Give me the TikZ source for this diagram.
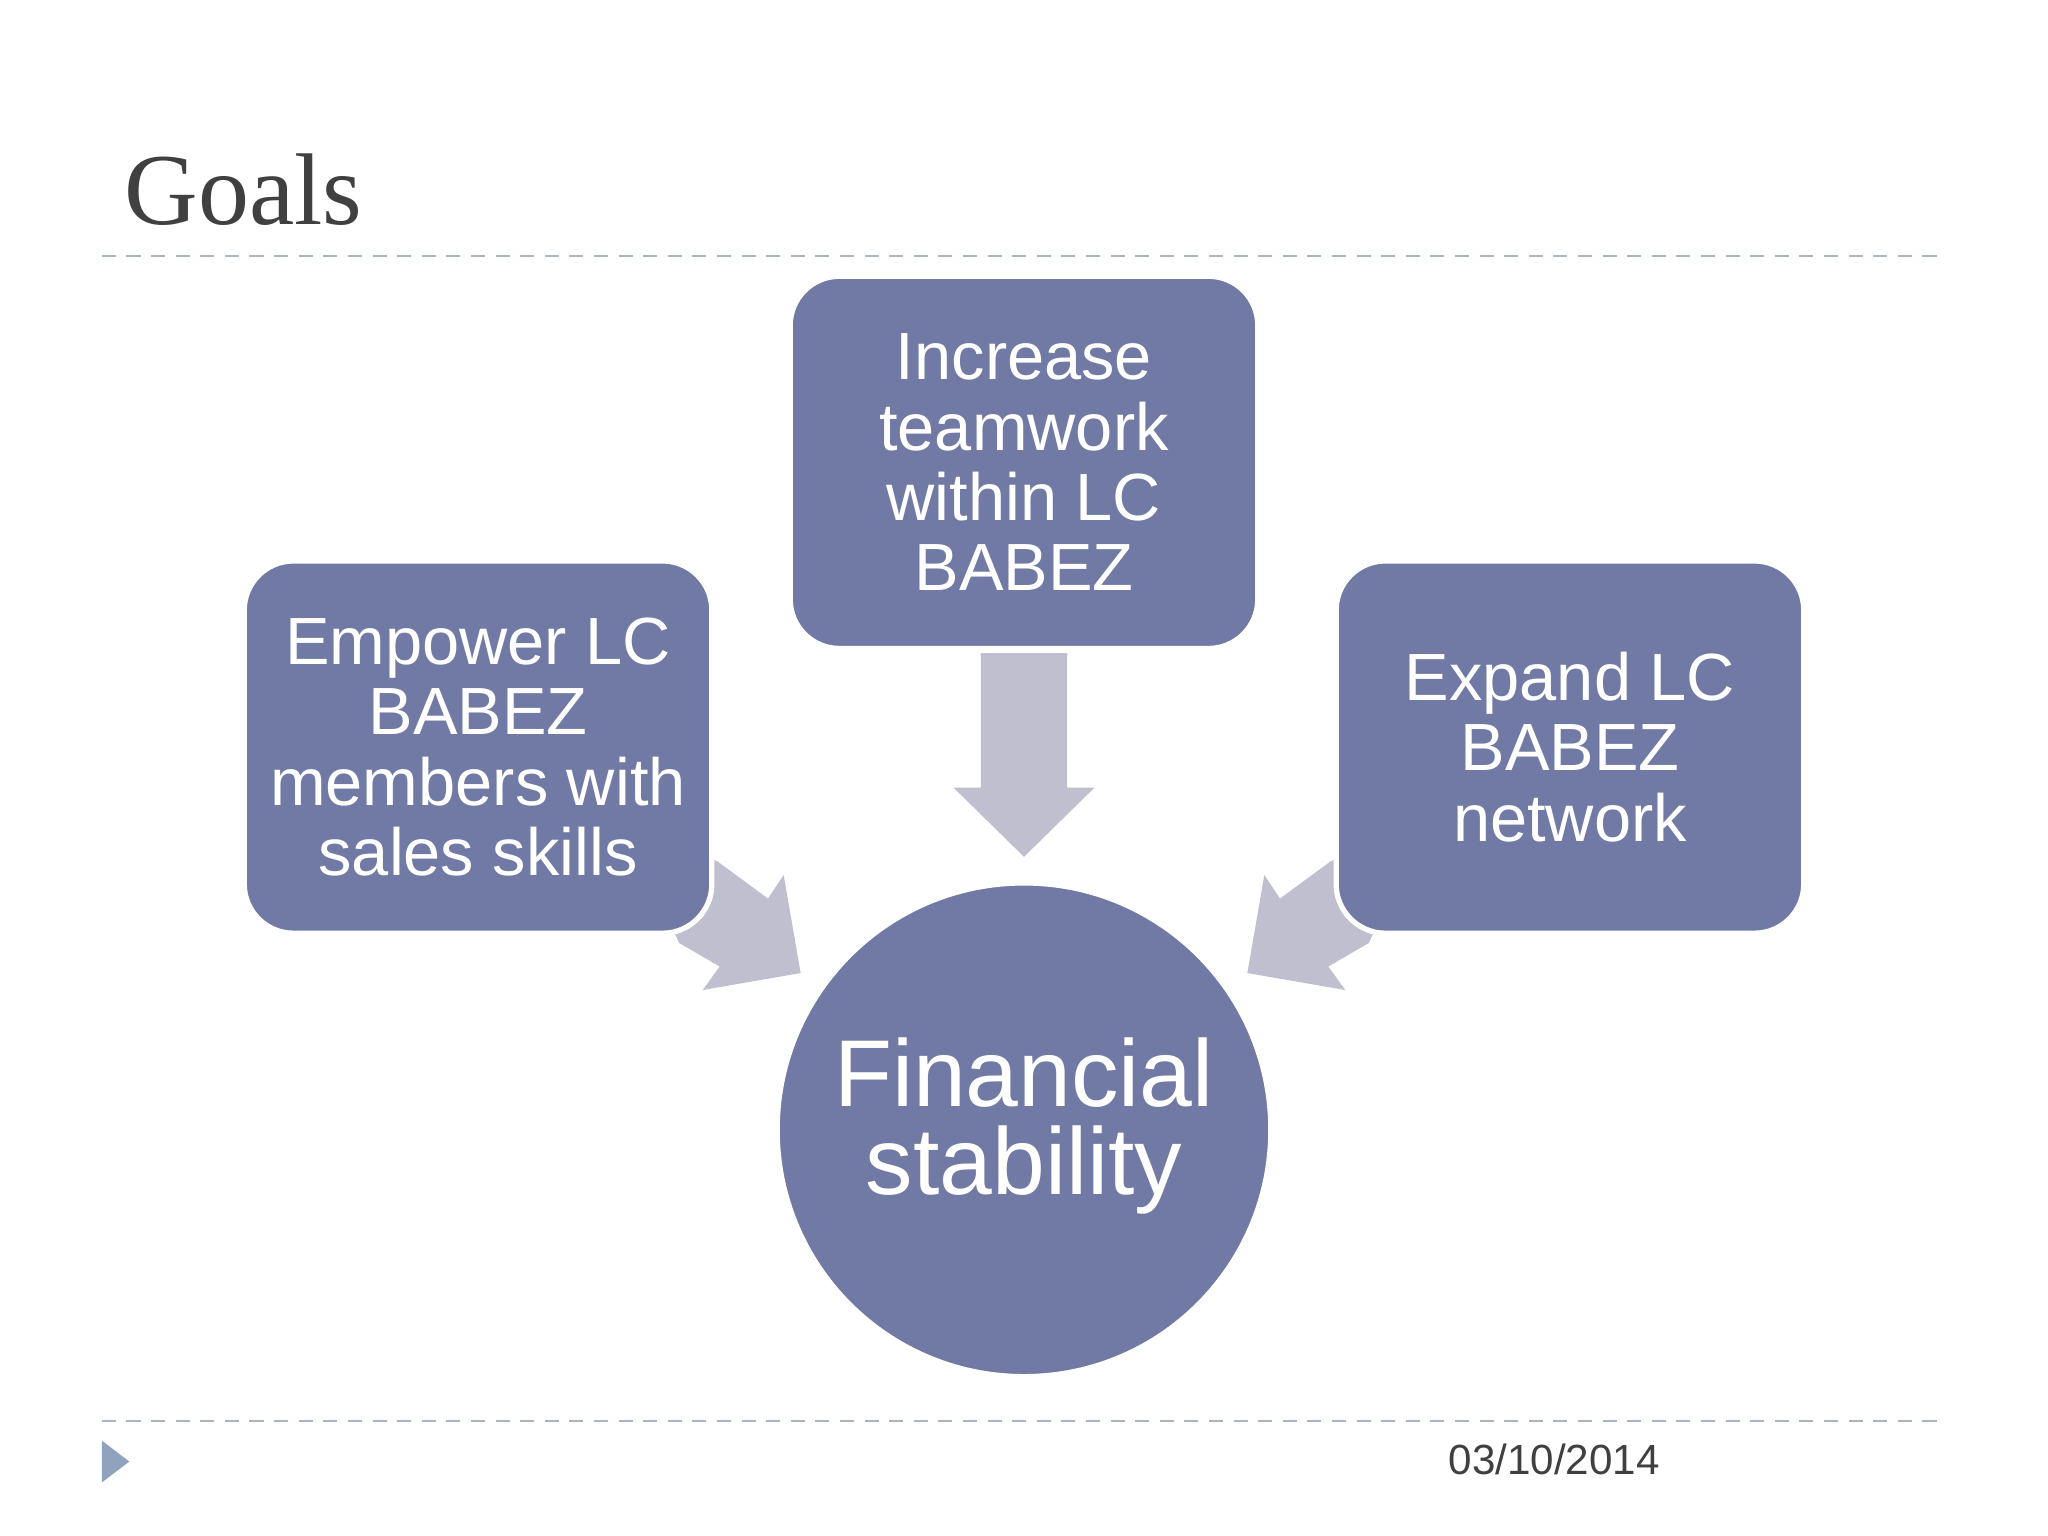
\documentclass[tikz,border=0pt]{standalone}
\usepackage{fontspec}
\setmainfont{Liberation Sans}
\newfontfamily\titlefont{Liberation Serif}
\definecolor{boxc}{HTML}{717AA4}
\definecolor{arrc}{HTML}{BFBFCF}
\definecolor{dashc}{HTML}{A9B4C4}
\definecolor{tric}{HTML}{8FA3BE}
\definecolor{titc}{HTML}{404040}
\tikzset{
  goalbox/.style={fill=boxc,draw=white,line width=1.5pt,rounded corners=14pt,text=white,align=center,inner sep=0pt,font=\fontsize{19}{20}\selectfont},
  goalarrow/.style={fill=arrc,draw=none},
  sepline/.style={draw=dashc,dash pattern=on 4pt off 3pt,line width=0.6pt}
}
\begin{document}
\begin{tikzpicture}[x=0.01306cm,y=-0.01306cm]
\useasboundingbox (0,0) rectangle (1568,1176);
\node[anchor=base west,text=titc,font=\titlefont\fontsize{29}{29}\selectfont,inner sep=0] (title) at (95,172) {Goals};
\coordinate (l1a) at (78,196); \coordinate (l1b) at (1490,196);
\coordinate (l2a) at (78,1088); \coordinate (l2b) at (1490,1088);
\draw[sepline] (l1a) -- (l1b);
\draw[sepline] (l2a) -- (l2b);
\fill[tric] (78,1103) -- (78,1135) -- (99,1119) -- cycle;
\node[font=\fontsize{12}{12}\selectfont,text=titc] (date) at (1190,1117) {03/10/2014};
% arrows
\fill[goalarrow] (751,500) -- (817,500) -- (817,603) -- (838,603) -- (784,656) -- (730,603) -- (751,603) -- cycle;
\fill[goalarrow] (530,650) -- (550,660) -- (588,688) -- (600,670) -- (613,745) -- (538,758) -- (551,740) -- (520,722) -- (510,700) -- cycle;
\fill[goalarrow] (1038,650) -- (1018,660) -- (980,688) -- (968,670) -- (955,745) -- (1030,758) -- (1017,740) -- (1048,722) -- (1058,700) -- cycle;
% boxes
\node[goalbox,minimum width=358*0.01306cm,minimum height=285*0.01306cm] (left) at (366,572) {Empower LC\\BABEZ\\members with\\sales skills};
\node[goalbox,minimum width=358*0.01306cm,minimum height=285*0.01306cm] (top) at (784,354) {Increase\\teamwork\\within LC\\BABEZ};
\node[goalbox,minimum width=358*0.01306cm,minimum height=285*0.01306cm] (right) at (1202,572) {Expand LC\\BABEZ\\network};
\node[circle,fill=boxc,draw=white,line width=1.5pt,inner sep=0pt,minimum size=378*0.01306cm] (fin) at (784,865) {};
\node[text=white,align=center,font=\fontsize{27}{25}\selectfont] (fintext) at (784,862) {Financial\\stability};
\end{tikzpicture}
\end{document}
